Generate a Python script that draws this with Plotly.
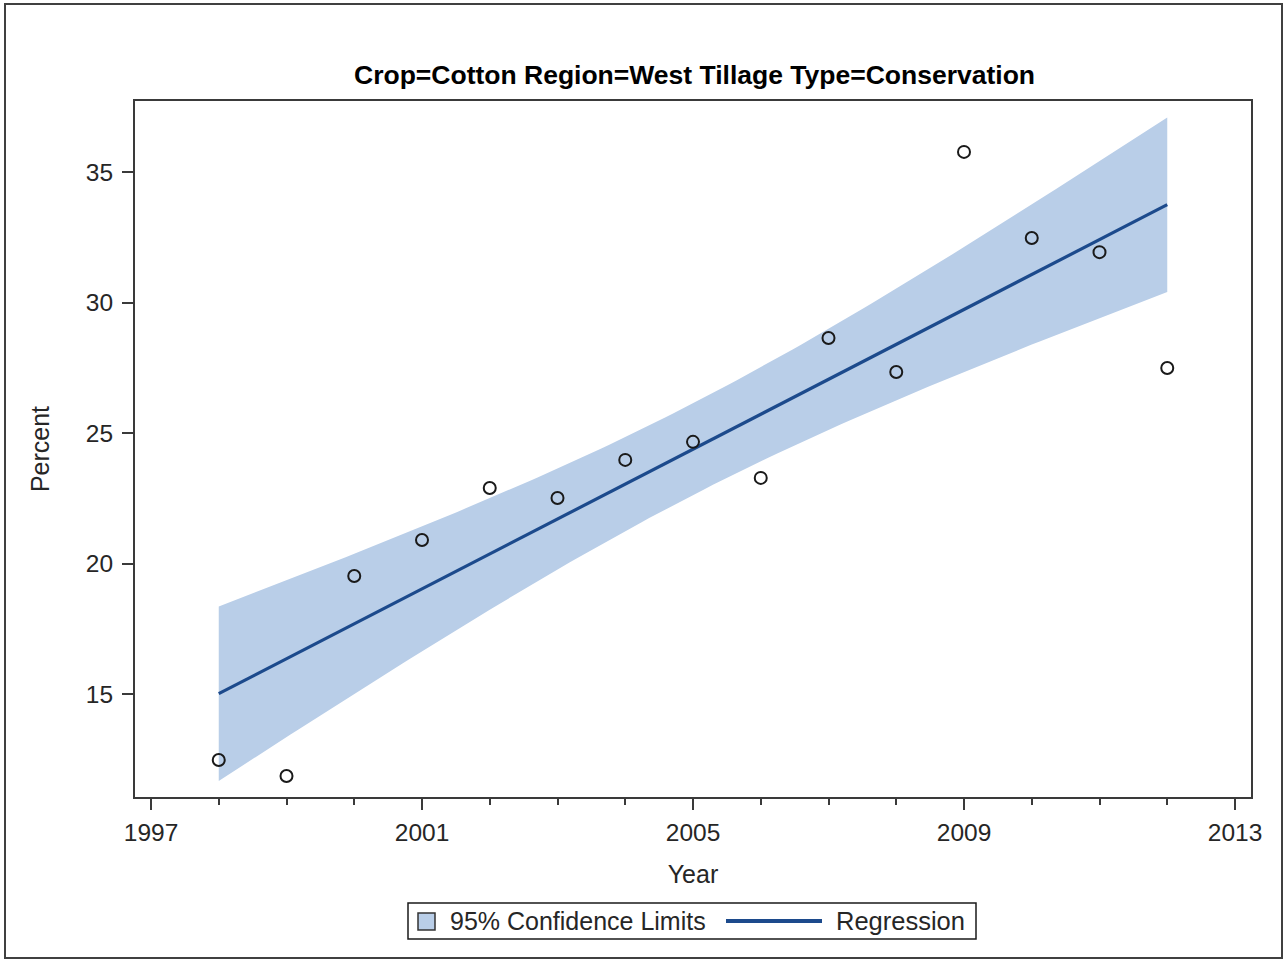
import numpy as np
import plotly.graph_objects as go

# Observed percentages by year
years = [1998, 1999, 2000, 2001, 2002, 2003, 2004, 2005,
         2006, 2007, 2008, 2009, 2010, 2011, 2012]
percent = [12.47, 11.86, 19.52, 20.90, 22.89, 22.51, 23.97, 24.66,
           23.28, 28.64, 27.34, 35.77, 32.47, 31.93, 27.49]

x_ticks = [1997, 2001, 2005, 2009, 2013]
y_ticks = [15, 20, 25, 30, 35]

title_text = "Crop=Cotton Region=West Tillage Type=Conservation"
band_label = "95% Confidence Limits"
line_label = "Regression"

# Least-squares fit with 95% confidence limits for the mean
x = np.array(years, dtype=float)
y = np.array(percent, dtype=float)
n = len(x)
slope, intercept = np.polyfit(x, y, 1)
resid = y - (intercept + slope * x)
s = np.sqrt(np.sum(resid ** 2) / (n - 2))
sxx = np.sum((x - x.mean()) ** 2)
t_crit = 2.160  # t(0.975, df=13)
xg = np.linspace(x.min(), x.max(), 120)
yg = intercept + slope * xg
half = t_crit * s * np.sqrt(1.0 / n + (xg - x.mean()) ** 2 / sxx)
upper = yg + half
lower = yg - half

BAND = "#b9cee8"
LINE = "#1c4a8c"
AXIS = "#3a3a3a"
TXT = "#262626"
FONT = "Liberation Sans, Arial, sans-serif"

# plot-area geometry in pixels
W, H = 1286, 961
L, R, T, B = 135, 1251, 101, 797


def px_x(p):
    return (p - L) / (R - L)


def px_y(p):
    return (B - p) / (B - T)


fig = go.Figure()
fig.add_trace(go.Scatter(
    x=np.concatenate([xg, xg[::-1]]), y=np.concatenate([upper, lower[::-1]]),
    fill="toself", fillcolor=BAND, line=dict(width=0), mode="lines",
    hoverinfo="skip", showlegend=False))
fig.add_trace(go.Scatter(
    x=xg, y=yg, mode="lines", line=dict(color=LINE, width=3.2),
    showlegend=False))
fig.add_trace(go.Scatter(
    x=years, y=percent, mode="markers",
    marker=dict(symbol="circle-open", size=12, color="#1a1a1a",
                line=dict(width=2, color="#1a1a1a")),
    showlegend=False))

shapes = [
    # outer frame
    dict(type="rect", xref="paper", yref="paper",
         x0=px_x(5), x1=px_x(1282), y0=px_y(958), y1=px_y(4),
         line=dict(color="#404040", width=2)),
    # legend frame
    dict(type="rect", xref="paper", yref="paper",
         x0=px_x(408), x1=px_x(976), y0=px_y(939), y1=px_y(903),
         line=dict(color="#1a1a1a", width=1.5), fillcolor="white"),
    # legend patch
    dict(type="rect", xref="paper", yref="paper",
         x0=px_x(418), x1=px_x(435), y0=px_y(930), y1=px_y(913),
         line=dict(color="#333333", width=1.5), fillcolor=BAND),
    # legend line sample
    dict(type="line", xref="paper", yref="paper",
         x0=px_x(726), x1=px_x(822), y0=px_y(921), y1=px_y(921),
         line=dict(color=LINE, width=4)),
]

annotations = [
    dict(text="<b>" + title_text + "</b>", xref="paper", yref="paper",
         x=px_x(694), y=px_y(75), showarrow=False, xanchor="center",
         yanchor="middle", font=dict(family=FONT, size=26.5, color="#000000")),
    dict(text=band_label, xref="paper", yref="paper",
         x=px_x(448), y=px_y(921), showarrow=False, xanchor="left",
         yanchor="middle", font=dict(family=FONT, size=25, color=TXT)),
    dict(text=line_label, xref="paper", yref="paper",
         x=px_x(834), y=px_y(921), showarrow=False, xanchor="left",
         yanchor="middle", font=dict(family=FONT, size=25.5, color=TXT)),
]

x0 = 1997 - (151 - L) / 67.75
x1 = 2013 + (R - 1235) / 67.75
y_per = (694 - 172) / 20.0
y1 = 35 + (172 - T) / y_per
y0 = 15 - (B - 694) / y_per

fig.update_layout(
    width=W, height=H,
    margin=dict(l=L, r=W - R, t=T, b=H - B, autoexpand=False),
    paper_bgcolor="white", plot_bgcolor="white",
    font=dict(family=FONT, size=24, color=TXT),
    shapes=shapes, annotations=annotations,
    showlegend=False,
    xaxis=dict(
        range=[x0, x1], tickvals=x_ticks, ticktext=[str(v) for v in x_ticks],
        showgrid=False, zeroline=False, showline=True, mirror=True,
        linecolor=AXIS, linewidth=2, ticks="outside", ticklen=11,
        tickwidth=2, tickcolor=AXIS, ticklabelstandoff=2,
        minor=dict(dtick=1, tick0=1997, ticks="outside", ticklen=6,
                   tickwidth=2, tickcolor=AXIS, showgrid=False),
        tickfont=dict(family=FONT, size=24.5, color=TXT),
        title=dict(text="Year", font=dict(family=FONT, size=25, color=TXT),
                   standoff=20),
    ),
    yaxis=dict(
        range=[y0, y1], tickvals=y_ticks, ticktext=[str(v) for v in y_ticks],
        showgrid=False, zeroline=False, showline=True, mirror=True,
        linecolor=AXIS, linewidth=2, ticks="outside", ticklen=11,
        tickwidth=2, tickcolor=AXIS, ticklabelstandoff=4,
        tickfont=dict(family=FONT, size=24.5, color=TXT),
        title=dict(text="Percent", font=dict(family=FONT, size=25, color=TXT),
                   standoff=29),
    ),
)

fig.write_html("out.html")
